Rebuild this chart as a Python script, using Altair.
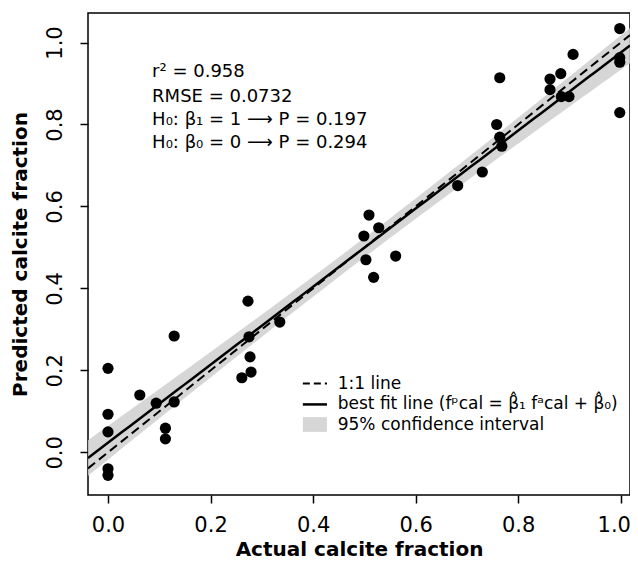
import altair as alt
import numpy as np
import pandas as pd

# ---- data ----
actual = [0.0, 0.0, 0.0, 0.0, 0.0, 0.062, 0.094, 0.112, 0.112, 0.129, 0.129,
          0.261, 0.273, 0.275, 0.277, 0.279, 0.335, 0.499, 0.503, 0.509, 0.518,
          0.528, 0.561, 0.682, 0.730, 0.758, 0.764, 0.768, 0.764, 0.862, 0.862,
          0.883, 0.884, 0.899, 0.907, 0.998, 0.998, 0.998, 0.998]
predicted = [0.205, 0.093, 0.050, -0.040, -0.056, 0.140, 0.120, 0.059, 0.033, 0.284, 0.123,
             0.182, 0.369, 0.282, 0.233, 0.196, 0.318, 0.528, 0.470, 0.579, 0.427,
             0.548, 0.479, 0.651, 0.684, 0.800, 0.769, 0.747, 0.914, 0.911, 0.885,
             0.924, 0.868, 0.868, 0.971, 1.034, 0.963, 0.952, 0.829]

# fitted line (consistent with the printed P values)
fit_slope = 0.952
fit_intercept = 0.0235
rmse = 0.0732

stats_lines = ["r² = 0.958", "RMSE = 0.0732",
               "H₀: β₁ = 1 ⟶ P = 0.197", "H₀: β₀ = 0 ⟶ P = 0.294"]
legend_labels = ["1:1 line", "best fit line (fᵖcal = β̂₁ fᵃcal + β̂₀)",
                 "95% confidence interval"]
x_ticks = [0.0, 0.2, 0.4, 0.6, 0.8, 1.0]
y_ticks = [0.0, 0.2, 0.4, 0.6, 0.8, 1.0]

# ---- layout constants ----
X_DOM = [-0.039, 1.018]
Y_DOM = [-0.104, 1.072]
FONT = "DejaVu Sans"
stats_x = 0.086
stats_y = [0.929, 0.868, 0.810, 0.754]
leg_x0, leg_x1, leg_tx = 0.380, 0.427, 0.448
leg_y = [0.168, 0.117, 0.068]

# ---- 95% confidence band around the fitted line ----
xa = np.array(actual)
n = len(xa)
sxx = np.sum((xa - xa.mean()) ** 2)
t_crit = 2.026
grid = np.linspace(X_DOM[0], X_DOM[1], 80)
fit = fit_slope * grid + fit_intercept
half = t_crit * rmse * np.sqrt(1.0 / n + (grid - xa.mean()) ** 2 / sxx)

pts = pd.DataFrame({"actual": actual, "predicted": predicted})
band = pd.DataFrame({"x": grid, "lo": fit - half, "hi": fit + half, "fit": fit})
one = pd.DataFrame({"x": X_DOM, "y": X_DOM})

xs = alt.Scale(domain=X_DOM, nice=False, zero=False)
ys = alt.Scale(domain=Y_DOM, nice=False, zero=False)

xaxis = alt.Axis(title="Actual calcite fraction", values=x_ticks, format=".1f",
                 grid=False, domain=False, tickSize=8, tickColor="black",
                 tickWidth=1.5, labelFont=FONT, labelFontSize=21,
                 labelColor="black", labelPadding=11, titleFont=FONT,
                 titleFontSize=20, titleFontWeight="bold", titleColor="black",
                 titlePadding=4,
                 labelOffset={"condition": {"test": "datum.value >= 1", "value": -7},
                              "value": 0})
yaxis = alt.Axis(title="Predicted calcite fraction", values=y_ticks, format=".1f",
                 grid=False, domain=False, tickSize=8, tickColor="black",
                 tickWidth=1.5, labelFont=FONT, labelFontSize=21,
                 labelColor="black", labelAngle=270, labelPadding=15,
                 titleFont=FONT, titleFontSize=20, titleFontWeight="bold",
                 titleColor="black", titlePadding=14)

band_layer = alt.Chart(band).mark_area(color="#cfcfcf", opacity=0.85, clip=True).encode(
    x=alt.X("x:Q", scale=xs, axis=xaxis),
    y=alt.Y("lo:Q", scale=ys, axis=yaxis),
    y2="hi:Q",
)
fit_layer = alt.Chart(band).mark_line(color="black", strokeWidth=2.5, clip=True).encode(
    x=alt.X("x:Q", scale=xs), y=alt.Y("fit:Q", scale=ys))
one_layer = alt.Chart(one).mark_line(color="black", strokeWidth=2,
                                     strokeDash=[9, 5], clip=True).encode(
    x=alt.X("x:Q", scale=xs), y=alt.Y("y:Q", scale=ys))
pt_layer = alt.Chart(pts).mark_circle(color="black", opacity=1, size=125).encode(
    x=alt.X("actual:Q", scale=xs), y=alt.Y("predicted:Q", scale=ys))

stats_df = pd.DataFrame({"x": [stats_x] * 4, "y": stats_y, "t": stats_lines})
stats_layer = alt.Chart(stats_df).mark_text(
    align="left", baseline="middle", font=FONT, fontSize=18, color="black").encode(
    x=alt.X("x:Q", scale=xs), y=alt.Y("y:Q", scale=ys), text="t:N")

leg_text_df = pd.DataFrame({"x": [leg_tx] * 3, "y": leg_y, "t": legend_labels})
leg_text = alt.Chart(leg_text_df).mark_text(
    align="left", baseline="middle", font=FONT, fontSize=17, color="black").encode(
    x=alt.X("x:Q", scale=xs), y=alt.Y("y:Q", scale=ys), text="t:N")

leg_dash = alt.Chart(pd.DataFrame({"x": [leg_x0], "x2": [leg_x1], "y": [leg_y[0]]})).mark_rule(
    color="black", strokeWidth=2, strokeDash=[7, 4]).encode(
    x=alt.X("x:Q", scale=xs), x2="x2:Q", y=alt.Y("y:Q", scale=ys))
leg_solid = alt.Chart(pd.DataFrame({"x": [leg_x0], "x2": [leg_x1], "y": [leg_y[1]]})).mark_rule(
    color="black", strokeWidth=2.5).encode(
    x=alt.X("x:Q", scale=xs), x2="x2:Q", y=alt.Y("y:Q", scale=ys))
leg_box = alt.Chart(pd.DataFrame({"x": [leg_x0], "x2": [leg_x1],
                                  "y": [leg_y[2] - 0.018], "y2": [leg_y[2] + 0.018]})).mark_rect(
    color="#cfcfcf", opacity=0.85).encode(
    x=alt.X("x:Q", scale=xs), x2="x2:Q", y=alt.Y("y:Q", scale=ys), y2="y2:Q")

chart = alt.layer(
    band_layer, one_layer, fit_layer, pt_layer, stats_layer,
    leg_dash, leg_solid, leg_box, leg_text
).properties(
    width=542, height=482,
    autosize=alt.AutoSizeParams(type="none"),
    padding={"left": 80, "top": 5, "right": 0, "bottom": 66},
    background="white",
).configure_view(stroke="black", strokeWidth=1.5)

chart.save("out.html", embed_options={"renderer": "svg", "actions": False})
